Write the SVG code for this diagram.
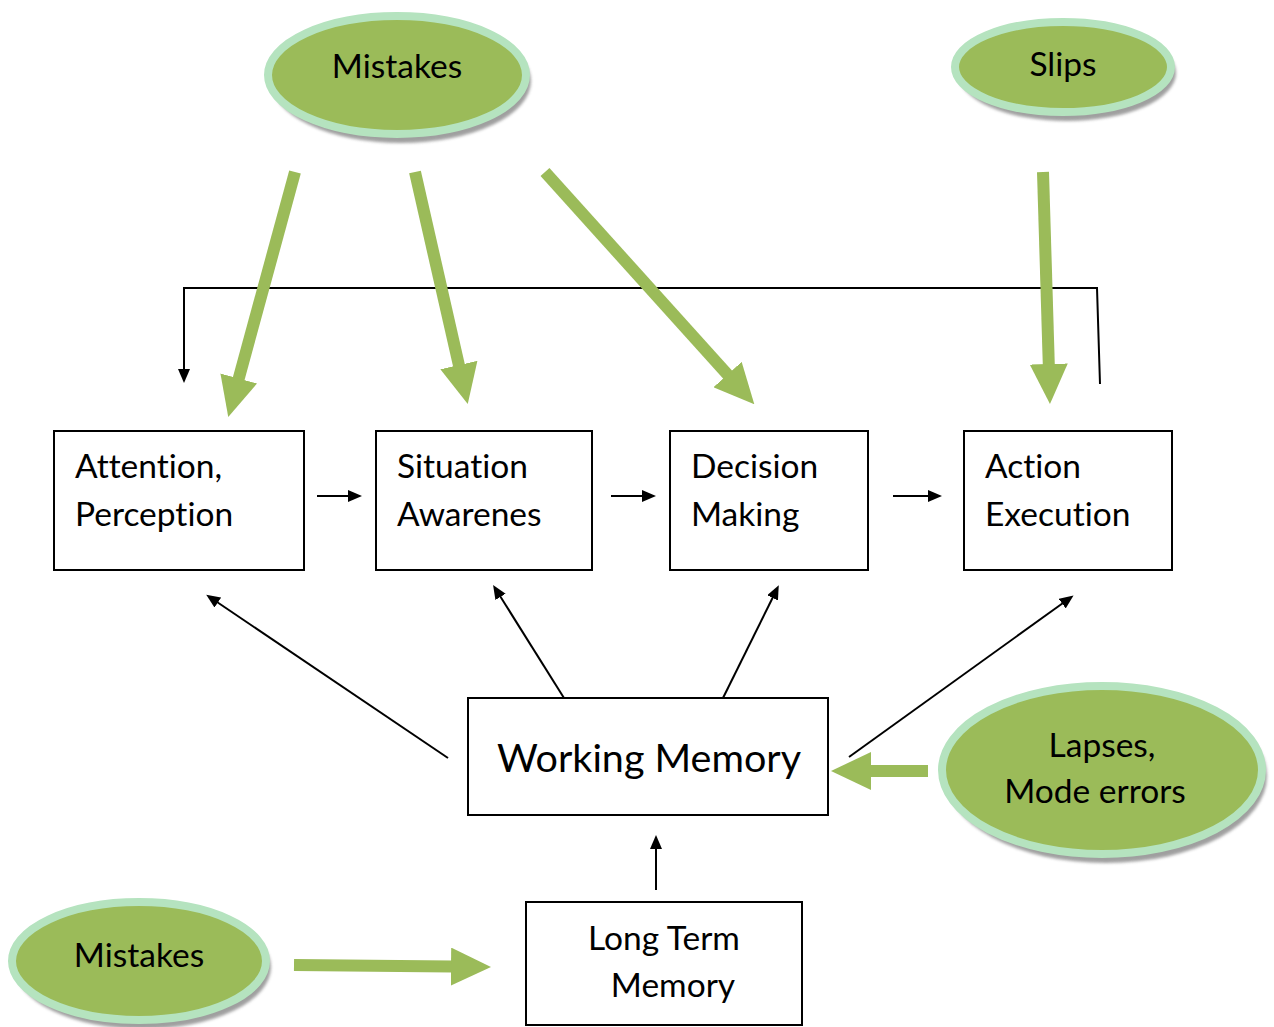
<svg xmlns="http://www.w3.org/2000/svg" width="1274" height="1027" viewBox="0 0 1274 1027">
<defs>
<style>
.box{fill:#fff;stroke:#000;stroke-width:2}
.t{font-family:Lato,"Liberation Sans",sans-serif;font-size:33.5px;fill:#000;font-variant-ligatures:none}
.el{fill:#9BBB59;stroke:#B5E3BF;stroke-width:8}
.sh{fill:#808080;opacity:0.75}
.blk{stroke:#000;stroke-width:2;fill:none}
.grn{stroke:#9BBB59;stroke-width:12;fill:none}
</style>
<marker id="ba" viewBox="0 0 14 12" refX="1" refY="6" markerWidth="14" markerHeight="12" markerUnits="userSpaceOnUse" orient="auto"><path d="M0,0 L14,6 L0,12 z" fill="#000"/></marker>
<marker id="ga" viewBox="0 0 40 38" refX="1" refY="19" markerWidth="40" markerHeight="38" markerUnits="userSpaceOnUse" orient="auto"><path d="M0,0 L40,19 L0,38 z" fill="#9BBB59"/></marker>
<filter id="blur" x="-10%" y="-10%" width="120%" height="120%"><feGaussianBlur stdDeviation="1.5"/></filter>
</defs>
<rect width="1274" height="1027" fill="#fff"/>

<g id="mistakes-top">
<ellipse class="sh" cx="401" cy="81" rx="130" ry="62" filter="url(#blur)"/>
<ellipse class="el" cx="397" cy="75" rx="129" ry="59"/>
<text class="t" x="397" y="78" text-anchor="middle">Mistakes</text>
</g>
<g id="slips">
<ellipse class="sh" cx="1067" cy="73" rx="109" ry="48" filter="url(#blur)"/>
<ellipse class="el" cx="1063" cy="67" rx="108" ry="45"/>
<text class="t" x="1063" y="76" text-anchor="middle">Slips</text>
</g>
<g id="lapses">
<ellipse class="sh" cx="1106" cy="776" rx="161" ry="87" filter="url(#blur)"/>
<ellipse class="el" cx="1102" cy="770" rx="160" ry="84"/>
<text class="t" x="1102" y="757" text-anchor="middle">Lapses,</text>
<text class="t" x="1095" y="803" text-anchor="middle">Mode errors</text>
</g>
<g id="mistakes-bottom">
<ellipse class="sh" cx="143" cy="967" rx="128" ry="62" filter="url(#blur)"/>
<ellipse class="el" cx="139" cy="961" rx="127" ry="59"/>
<text class="t" x="139" y="967" text-anchor="middle">Mistakes</text>
</g>

<g id="attention">
<rect class="box" x="54" y="431" width="250" height="139"/>
<text class="t" x="75" y="478">Attention,</text>
<text class="t" x="75" y="526">Perception</text>
</g>
<g id="situation">
<rect class="box" x="376" y="431" width="216" height="139"/>
<text class="t" x="397" y="478">Situation</text>
<text class="t" x="397" y="526">Awarenes</text>
</g>
<g id="decision">
<rect class="box" x="670" y="431" width="198" height="139"/>
<text class="t" x="691" y="478">Decision</text>
<text class="t" x="691" y="526">Making</text>
</g>
<g id="action">
<rect class="box" x="964" y="431" width="208" height="139"/>
<text class="t" x="985" y="478">Action</text>
<text class="t" x="985" y="526">Execution</text>
</g>
<g id="working-memory">
<rect class="box" x="468" y="698" width="360" height="117"/>
<text class="t" x="649" y="772" text-anchor="middle" style="font-size:39.5px">Working Memory</text>
</g>
<g id="long-term-memory">
<rect class="box" x="526" y="902" width="276" height="123"/>
<text class="t" x="664" y="950" text-anchor="middle">Long Term</text>
<text class="t" x="673" y="997" text-anchor="middle">Memory</text>
</g>

<g id="connectors">
<polyline class="blk" points="1100,384 1097,288 184,288 184,370" marker-end="url(#ba)"/>
<line class="blk" x1="317" y1="496" x2="349" y2="496" marker-end="url(#ba)"/>
<line class="blk" x1="611" y1="496" x2="643" y2="496" marker-end="url(#ba)"/>
<line class="blk" x1="893" y1="496" x2="929" y2="496" marker-end="url(#ba)"/>
<line class="blk" x1="448" y1="758" x2="217" y2="602" marker-end="url(#ba)"/>
<line class="blk" x1="564" y1="698" x2="500" y2="596" marker-end="url(#ba)"/>
<line class="blk" x1="723" y1="698" x2="773" y2="597" marker-end="url(#ba)"/>
<line class="blk" x1="849" y1="757" x2="1063" y2="603" marker-end="url(#ba)"/>
<line class="blk" x1="656" y1="890" x2="656" y2="848" marker-end="url(#ba)"/>

<line class="grn" x1="295" y1="172" x2="238.5" y2="379.4" marker-end="url(#ga)"/>
<line class="grn" x1="415" y1="172" x2="459.1" y2="366" marker-end="url(#ga)"/>
<line class="grn" x1="545" y1="172" x2="728.2" y2="375.3" marker-end="url(#ga)"/>
<line class="grn" x1="1043" y1="172" x2="1048.8" y2="365" marker-end="url(#ga)"/>
<line class="grn" x1="928" y1="771" x2="870" y2="771" marker-end="url(#ga)"/>
<line class="grn" x1="294" y1="965" x2="452" y2="966.6" marker-end="url(#ga)"/>
</g>
</svg>
